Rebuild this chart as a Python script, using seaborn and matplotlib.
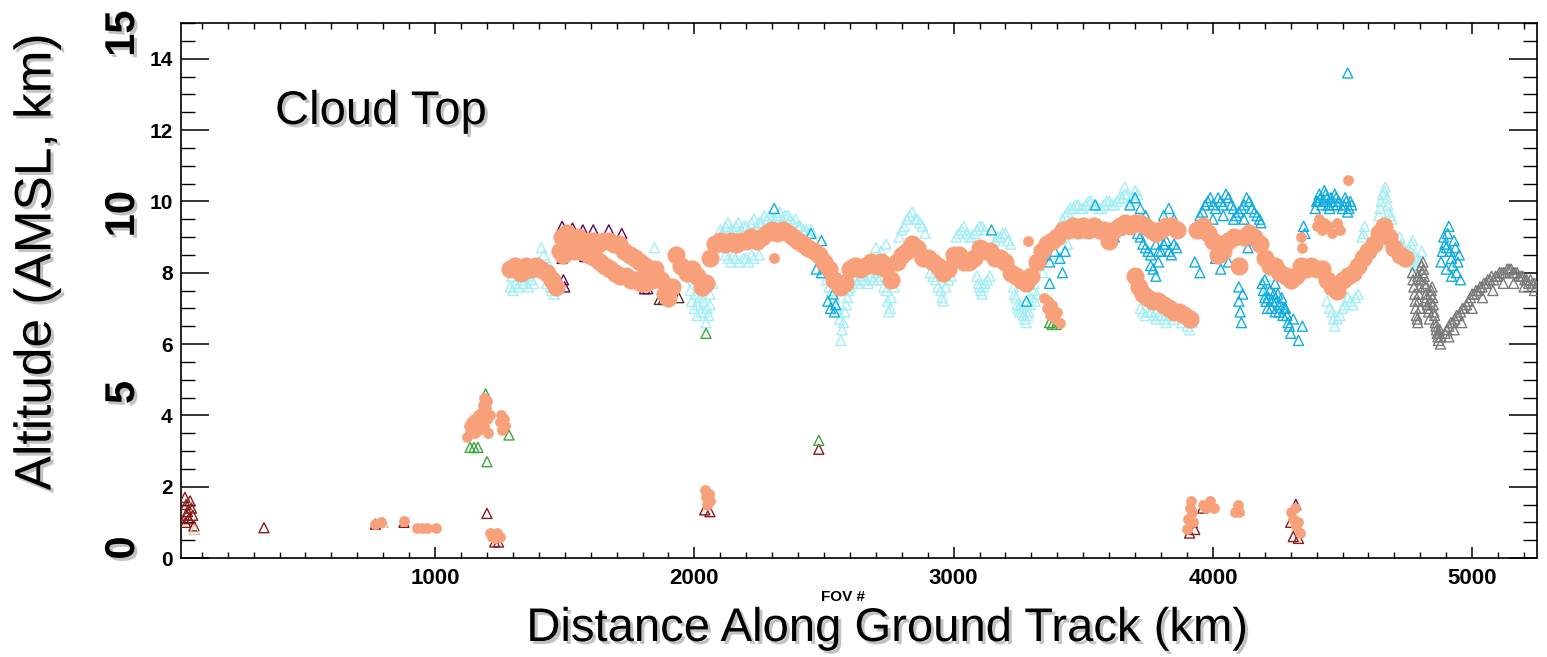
import matplotlib
matplotlib.use("Agg")
import matplotlib.pyplot as plt
import matplotlib.patheffects as pe
from matplotlib.transforms import blended_transform_factory
from matplotlib.ticker import MultipleLocator, FixedLocator
import pandas as pd
import seaborn as sns

# ---------------------------------------------------------------------------
# Cloud-top retrievals along the ground track (FOV #, altitude in km AMSL)
# ---------------------------------------------------------------------------

# main retrieved cloud-top band (filled salmon circles)
BAND_X = [1290, 1310, 1330, 1350, 1370, 1390, 1410, 1430, 1450, 1465, 1480, 1490,
          1510, 1530, 1550, 1570, 1590, 1610, 1630, 1650, 1670, 1690, 1710, 1730,
          1750, 1770, 1790, 1810, 1830, 1850, 1870, 1885, 1900, 1915, 1930, 1950,
          1970, 1990, 2010, 2030, 2045, 2060, 2080, 2100, 2120, 2140, 2160, 2180,
          2200, 2220, 2240, 2260, 2280, 2300, 2320, 2340, 2360, 2380, 2400, 2420,
          2440, 2460, 2480, 2500, 2520, 2540, 2560, 2580, 2600, 2620, 2640, 2660,
          2680, 2700, 2720, 2740, 2760, 2780, 2800, 2820, 2840, 2860, 2880, 2900,
          2920, 2940, 2960, 2980, 3000, 3020, 3040, 3060, 3080, 3100, 3120, 3140,
          3160, 3180, 3200, 3220, 3240, 3260, 3280, 3300, 3320, 3340, 3360, 3380,
          3400, 3420, 3440, 3460, 3480, 3500, 3520, 3540, 3560, 3580, 3600, 3620,
          3640, 3660, 3680, 3700, 3720, 3740, 3760, 3780, 3800, 3820, 3840, 3860,
          3940, 3960, 3980, 4000, 4020, 4040, 4060, 4080, 4100, 4120, 4140, 4160,
          4180, 4200, 4220, 4240, 4260, 4280, 4300, 4320, 4340, 4360, 4380, 4400,
          4420, 4440, 4460, 4480, 4500, 4520, 4540, 4560, 4580, 4600, 4620, 4640,
          4660, 4680, 4700, 4720, 4740]
BAND_Y = [8.1, 8.2, 8.0, 8.2, 8.1, 8.2, 8.1, 8.0, 7.8, 7.6, 8.6, 9.0,
          9.1, 8.9, 9.0, 8.8, 8.9, 8.9, 8.8, 8.9, 8.9, 8.8, 8.8, 8.6,
          8.5, 8.4, 8.3, 8.2, 8.1, 8.1, 7.8, 7.4, 7.3, 7.6, 8.5, 8.2,
          8.0, 8.1, 7.9, 7.6, 7.7, 8.4, 8.8, 8.9, 8.8, 8.9, 8.8, 8.9,
          8.9, 9.0, 8.9, 9.0, 9.1, 9.2, 9.1, 9.2, 9.1, 9.0, 8.9, 8.8,
          8.7, 8.6, 8.5, 8.3, 8.1, 7.8, 7.6, 7.7, 8.1, 8.2, 8.1, 8.2,
          8.3, 8.2, 8.3, 8.1, 7.8, 8.3, 8.5, 8.6, 8.8, 8.7, 8.4, 8.4,
          8.3, 8.2, 8.0, 8.1, 8.5, 8.5, 8.3, 8.3, 8.4, 8.7, 8.6, 8.6,
          8.4, 8.4, 8.3, 8.0, 7.9, 7.8, 7.7, 7.9, 8.3, 8.6, 8.8, 8.9,
          9.0, 9.2, 9.2, 9.3, 9.2, 9.3, 9.2, 9.3, 9.2, 9.2, 8.9, 9.2,
          9.3, 9.4, 9.3, 9.4, 9.4, 9.3, 9.2, 9.1, 9.2, 9.3, 9.3, 9.2,
          9.2, 9.3, 9.1, 8.9, 8.5, 8.6, 8.9, 9.0, 8.2, 9.0, 9.1, 9.0,
          8.8, 8.4, 8.2, 8.2, 8.0, 7.9, 7.8, 7.9, 8.2, 8.1, 8.2, 8.1,
          8.1, 7.8, 7.6, 7.5, 7.8, 7.9, 8.0, 8.2, 8.4, 8.6, 8.8, 9.1,
          9.3, 9.0, 8.7, 8.5, 8.4]

# lower edge of the thick layer near FOV 1500-1840 and the descending branch near 3700-3900
LAYER_X = [1495, 1515, 1535, 1555, 1575, 1595, 1615, 1635, 1655, 1675, 1695, 1715,
           1735, 1755, 1775, 1795, 1815, 1835,
           3700, 3715, 3730, 3750, 3770, 3790, 3810, 3830, 3850, 3870, 3890, 3910]
LAYER_Y = [8.5, 8.6, 8.6, 8.6, 8.6, 8.5, 8.4, 8.3, 8.2, 8.1, 8.0, 7.9,
           7.9, 7.8, 7.8, 7.7, 7.7, 7.8,
           7.9, 7.6, 7.4, 7.3, 7.2, 7.2, 7.1, 7.0, 6.9, 6.9, 6.8, 6.7]

# isolated salmon retrievals (low clouds and outliers)
SPOT_X = [770, 790, 880, 930, 950, 970, 1005,
          1125, 1130, 1135, 1140, 1145, 1150, 1155, 1160, 1165, 1170, 1175, 1180,
          1185, 1190, 1195, 1200, 1205, 1200, 1190, 1210,
          1250, 1255, 1260, 1265, 1270,
          1210, 1220, 1230, 1240, 1250,
          2040, 2045, 2050, 2055, 2060,
          2308, 3288,
          3350, 3360, 3370, 3380, 3390, 3400, 3410, 3365,
          3900, 3905, 3910, 3915, 3920, 3925,
          3960, 3975, 3990, 4005,
          4085, 4095, 4100,
          4300, 4310, 4320, 4330, 4315, 4335,
          4340, 4345, 4400, 4410, 4420, 4430, 4445, 4460, 4480, 4490,
          4520]
SPOT_Y = [0.95, 1.0, 1.05, 0.85, 0.85, 0.85, 0.85,
          3.4, 3.7, 3.5, 3.8, 3.6, 3.9, 3.5, 3.7, 4.0, 3.6, 3.8, 4.1,
          4.3, 4.5, 4.2, 3.9, 3.5, 4.4, 3.7, 4.0,
          3.8, 4.0, 3.6, 3.9, 3.7,
          0.7, 0.6, 0.55, 0.7, 0.6,
          1.9, 1.7, 1.5, 1.8, 1.6,
          8.4, 8.9,
          7.3, 7.0, 6.8, 7.1, 6.7, 6.9, 6.6, 7.2,
          0.8, 1.1, 1.4, 1.6, 1.3, 1.0,
          1.5, 1.4, 1.6, 1.4,
          1.3, 1.5, 1.3,
          1.3, 1.1, 0.9, 1.0, 1.4, 0.7,
          9.0, 8.7, 9.3, 9.5, 9.2, 9.4, 9.3, 9.1, 9.4, 9.2,
          10.6]

# pale cyan triangles
PALE_X = [1290, 1295, 1310, 1330, 1350, 1370, 1390, 1400, 1410, 1420, 1440, 1450, 1460,
          1300, 1320, 1340, 1360, 1380, 1420, 1430, 1445,
          1846, 1985, 1990, 2000, 2010, 2020, 2030, 2040, 2045, 2060, 2060, 2070,
          1995, 2005, 2015, 2025, 2035, 2050, 2055,
          2100, 2120, 2140, 2160, 2180, 2200, 2220, 2240, 2260, 2280, 2300, 2320,
          2340, 2360, 2380, 2400, 2420, 2440,
          2110, 2130, 2150, 2170, 2190, 2210, 2230, 2250, 2270, 2290, 2310, 2330,
          2350, 2370, 2390, 2410, 2430, 2450,
          2130, 2150, 2170, 2190, 2210, 2230, 2120, 2140, 2160, 2200, 2220, 2250,
          2520, 2540, 2550, 2560, 2565, 2570, 2580, 2590,
          2500, 2510, 2530, 2555, 2575, 2585, 2595,
          2600, 2620, 2640, 2660, 2680, 2700, 2720, 2740, 2745, 2750, 2760, 2770,
          2610, 2630, 2650, 2670, 2690, 2710, 2730, 2755,
          2720, 2740, 2700, 2790, 2810, 2830, 2850, 2870, 2890,
          2800, 2820, 2840, 2860, 2880,
          2910, 2930, 2950, 2960, 2970, 2990, 2920, 2940, 2955, 2980,
          3010, 3030, 3050, 3070, 3090, 3110, 3020, 3040, 3060, 3080, 3100, 3120,
          3090, 3100, 3110, 3120, 3140, 3095, 3105, 3115, 3130,
          3160, 3180, 3200, 3220, 3170, 3190, 3210,
          3230, 3240, 3250, 3260, 3270, 3280, 3290, 3300, 3310, 3320,
          3235, 3245, 3255, 3265, 3275, 3285, 3295, 3305, 3315,
          3330, 3345, 3400, 3440,
          3420, 3440, 3460, 3480, 3500, 3520, 3540, 3560, 3580, 3600, 3620, 3640,
          3660, 3680, 3700,
          3430, 3450, 3470, 3490, 3510, 3530, 3550, 3570, 3590, 3610, 3630, 3650,
          3670, 3690, 3710, 3660, 3700,
          3720, 3740, 3760, 3780, 3800, 3820, 3840, 3860, 3900, 3920,
          3730, 3750, 3770, 3790, 3810, 3830, 3850, 3880, 3910,
          4200, 4220,
          4440, 4460, 4470, 4480, 4500, 4520, 4540, 4560,
          4450, 4465, 4490, 4510, 4530, 4550,
          4575, 4585, 4640, 4650, 4660, 4670, 4680, 4690,
          4580, 4645, 4655, 4665, 4675, 4685,
          4720, 4735, 4750, 4760, 4770, 4780, 4790,
          4725, 4740, 4755, 4765, 4775, 4785, 4795, 4805]
PALE_Y = [7.6, 7.9, 7.7, 7.8, 7.9, 7.8, 8.0, 8.3, 8.7, 8.5, 8.2, 7.5, 7.4,
          7.5, 7.6, 7.7, 7.6, 7.7, 8.0, 7.7, 7.6,
          8.7, 7.5, 7.2, 7.0, 6.8, 7.3, 7.6, 6.9, 6.6, 7.1, 7.4, 7.7,
          7.8, 7.4, 7.1, 6.9, 7.2, 7.0, 6.8,
          9.2, 9.3, 9.2, 9.3, 9.2, 9.3, 9.4, 9.3, 9.4, 9.5, 9.5, 9.6,
          9.5, 9.6, 9.4, 9.3, 9.2, 9.1,
          9.1, 9.4, 9.2, 9.4, 9.3, 9.2, 9.5, 9.4, 9.6, 9.6, 9.5, 9.7,
          9.6, 9.5, 9.5, 9.3, 9.2, 9.2,
          8.4, 8.5, 8.3, 8.4, 8.3, 8.4, 8.5, 8.3, 8.4, 8.4, 8.5, 8.5,
          7.6, 7.3, 7.0, 6.7, 6.1, 6.4, 6.9, 7.3,
          8.0, 7.8, 7.5, 6.9, 6.6, 7.1, 7.5,
          7.6, 7.8, 7.9, 7.8, 7.9, 8.0, 7.9, 7.5, 7.2, 6.9, 7.3, 7.6,
          7.7, 7.7, 7.8, 7.7, 7.8, 7.8, 7.6, 7.0,
          8.6, 8.8, 8.7, 9.0, 9.3, 9.6, 9.5, 9.4, 9.1,
          9.2, 9.5, 9.7, 9.5, 9.3,
          8.0, 7.8, 7.5, 7.2, 7.6, 7.9, 7.9, 7.6, 7.3, 7.8,
          9.0, 9.2, 9.1, 9.0, 9.2, 9.3, 9.1, 9.3, 9.0, 9.1, 9.3, 9.2,
          7.9, 7.6, 7.4, 7.7, 7.9, 7.7, 7.5, 7.6, 7.8,
          8.9, 9.0, 9.1, 8.8, 9.0, 9.1, 8.9,
          7.6, 7.3, 7.0, 7.1, 6.8, 6.6, 6.9, 7.3, 7.7, 7.4,
          7.4, 7.1, 6.9, 6.9, 6.7, 6.8, 7.1, 7.5, 7.2,
          8.2, 8.0, 8.4, 8.8,
          9.5, 9.7, 9.8, 9.9, 9.8, 10.0, 9.9, 9.8, 9.9, 10.0, 9.9, 10.1,
          10.2, 10.0, 10.1,
          9.6, 9.8, 9.9, 9.8, 9.9, 10.0, 9.9, 9.8, 10.0, 9.9, 10.0, 10.1,
          10.2, 10.1, 10.2, 10.4, 10.3,
          7.0, 6.8, 6.9, 6.7, 6.8, 6.6, 6.9, 6.8, 6.5, 6.6,
          6.9, 6.9, 6.8, 6.8, 6.7, 6.8, 6.7, 6.6, 6.4,
          7.4, 7.9,
          7.2, 6.9, 6.5, 6.7, 7.0, 7.3, 7.1, 7.4,
          7.0, 6.7, 6.8, 7.1, 7.2, 7.3,
          9.0, 9.3, 9.6, 10.0, 10.3, 10.1, 9.7, 9.5,
          9.1, 9.8, 10.2, 10.4, 9.9, 9.6,
          9.0, 8.7, 8.4, 8.6, 8.9, 8.2, 8.4,
          8.8, 8.5, 8.3, 8.8, 8.5, 8.0, 8.3, 8.6]

# sky-blue triangles
SKY_X = [2308, 2450, 2490, 2470, 2490, 2515, 2525, 2535, 2545, 2540,
         3146, 3281, 3354, 3370, 3390, 3410, 3430, 3370, 3420,
         3546, 3600, 3620, 3640,
         3680, 3700, 3720, 3740, 3720, 3740, 3760, 3770, 3780, 3790, 3800, 3820,
         3840, 3860, 3780, 3760, 3810, 3830, 3850,
         3710, 3730, 3750, 3790, 3810, 3830, 3850,
         3930, 3950,
         3950, 3970, 3990, 4010, 4030, 4050, 4070, 4090, 4110, 4130, 4150, 4170, 4185,
         3960, 3980, 4000, 4020, 4040, 4060, 4080, 4100, 4120, 4140, 4160, 4180,
         3960, 4000, 4040, 4080, 4120,
         4010, 4030, 4050, 4060,
         4100, 4100, 4105, 4110, 4115, 4135, 4150,
         4190, 4200, 4210, 4220, 4230, 4240, 4250, 4260, 4270, 4280, 4290, 4300,
         4310, 4330, 4345, 4200, 4240,
         4195, 4205, 4215, 4225, 4235, 4245, 4255, 4265, 4275, 4285, 4295,
         4350, 4355,
         4400, 4410, 4420, 4430, 4440, 4450, 4460, 4470, 4480, 4500, 4510, 4520, 4530,
         4395, 4405, 4415, 4425, 4435, 4445, 4455, 4465, 4475, 4485, 4505, 4515, 4525, 4535,
         4520,
         4880, 4890, 4900, 4910, 4920, 4930, 4940, 4950, 4955, 4900, 4920,
         4885, 4895, 4905, 4915, 4925, 4935, 4945]
SKY_Y = [9.8, 9.1, 8.9, 8.1, 8.0, 7.2, 7.0, 7.4, 7.1, 6.9,
         9.2, 7.2, 8.5, 8.3, 8.6, 8.4, 8.6, 7.7, 8.0,
         9.9, 9.1, 9.0, 9.2,
         9.9, 10.1, 9.8, 9.6, 9.0, 8.7, 8.5, 8.1, 8.8, 8.3, 8.6, 8.9,
         8.5, 8.7, 7.9, 8.2, 9.6, 9.8, 9.5,
         9.1, 8.8, 8.6, 8.6, 8.8, 8.6, 8.8,
         8.3, 8.0,
         9.6, 9.9, 10.1, 9.8, 10.0, 10.2, 9.9, 9.6, 9.8, 10.1, 9.8, 9.6, 9.4,
         9.7, 10.0, 9.9, 10.1, 9.9, 10.1, 9.8, 9.7, 9.9, 10.0, 9.7, 9.5,
         9.4, 9.5, 9.6, 9.5, 9.5,
         8.4, 8.1, 8.6, 8.3,
         7.6, 7.2, 6.9, 6.6, 7.4, 8.7, 8.9,
         7.7, 7.3, 7.0, 7.5, 7.2, 6.9, 7.4, 7.1, 6.8, 7.0, 6.6, 6.3,
         6.7, 6.1, 6.5, 7.8, 7.7,
         7.5, 7.2, 7.3, 7.0, 7.4, 7.2, 6.9, 7.3, 7.0, 6.8, 6.5,
         9.3, 9.1,
         10.0, 10.2, 9.9, 10.3, 10.1, 9.8, 10.0, 10.2, 9.9, 9.8, 10.1, 9.7, 10.0,
         9.8, 10.0, 10.1, 10.0, 10.2, 9.9, 10.1, 9.9, 10.1, 10.0, 9.9, 10.0, 9.8, 9.9,
         13.6,
         8.3, 9.0, 8.7, 9.3, 8.4, 8.9, 8.0, 8.5, 7.8, 8.1, 7.9,
         8.6, 8.8, 9.1, 8.6, 8.2, 8.7, 8.3]

# grey triangles at the end of the track
GREY_X = [4770, 4775, 4780, 4785, 4790, 4795, 4800, 4805, 4810, 4815, 4820, 4825,
          4830, 4835, 4840, 4845, 4850, 4855, 4860, 4865, 4870, 4875, 4880, 4790, 4800,
          4772, 4778, 4782, 4788, 4792, 4798, 4808, 4812, 4818, 4822, 4828, 4832,
          4838, 4842, 4848, 4852, 4858, 4862, 4868, 4872, 4878,
          4895, 4910, 4925, 4940, 4955, 4970, 4985, 5000, 5015, 5030, 5045, 5060,
          5075, 5090, 5105, 5120, 5135, 5150, 5165, 5180, 5195, 5210, 5225, 5240,
          4902, 4918, 4933, 4948, 4963, 4978, 4993, 5008, 5023, 5038, 5053, 5068,
          5083, 5098, 5113, 5128, 5143, 5158, 5173, 5188, 5203, 5218, 5233, 5248,
          4910, 4930, 4960, 5000, 5040, 5080, 5120, 5160, 5200, 5240]
GREY_Y = [8.0, 7.6, 7.2, 6.8, 6.6, 7.4, 7.8, 8.2, 8.3, 7.9, 7.6, 7.3,
          7.0, 6.7, 7.4, 7.6, 7.1, 6.8, 6.5, 6.3, 6.1, 6.4, 6.2, 7.9, 7.0,
          7.8, 7.4, 7.0, 6.7, 7.2, 7.6, 8.0, 8.1, 7.7, 7.4, 7.1, 6.9,
          7.2, 7.5, 7.3, 6.9, 6.6, 6.4, 6.2, 6.3, 6.0,
          6.3, 6.5, 6.6, 6.8, 6.9, 7.0, 7.2, 7.4, 7.5, 7.6, 7.7, 7.8,
          7.9, 7.9, 8.0, 8.0, 8.1, 8.1, 8.0, 7.9, 7.9, 7.8, 7.8, 7.7,
          6.4, 6.6, 6.7, 6.8, 7.0, 7.1, 7.3, 7.4, 7.5, 7.6, 7.7, 7.8,
          7.8, 7.9, 8.0, 8.0, 8.1, 8.0, 8.0, 7.9, 7.8, 7.7, 7.7, 7.6,
          6.2, 6.4, 6.6, 7.0, 7.3, 7.5, 7.7, 7.7, 7.6, 7.5]

# dark red triangles (low cloud)
RED_X = [35, 40, 45, 50, 38, 55, 60, 65, 70, 42, 340, 770, 880, 1200, 1230, 1245,
         2040, 2060, 2480, 3910, 3920, 3930, 3960, 4100, 4310, 4330, 4300]
RED_Y = [1.7, 1.5, 1.3, 1.1, 1.0, 1.6, 1.4, 1.2, 0.9, 1.2, 0.85, 0.95, 1.0, 1.25, 0.45, 0.45,
         1.35, 1.3, 3.05, 0.7, 1.0, 0.8, 1.4, 1.35, 0.6, 0.55, 1.0]

# tan triangles
TAN_X = [72, 800]
TAN_Y = [0.8, 1.0]

# green triangles
GREEN_X = [1135, 1150, 1165, 1195, 1200, 1285, 2045, 2480, 3370, 3380, 3395]
GREEN_Y = [3.1, 3.1, 3.1, 4.6, 2.7, 3.45, 6.3, 3.3, 6.6, 6.55, 6.55]

# purple triangles
PURPLE_X = [1490, 1530, 1570, 1610, 1670, 1720, 1490, 1495, 1500, 1577, 1646, 1685,
            1723, 1762, 1808, 1820, 4320]
PURPLE_Y = [9.3, 9.25, 9.2, 9.2, 9.2, 9.1, 8.4, 7.8, 7.6, 8.45, 8.3, 8.1,
            7.9, 7.8, 7.55, 7.55, 1.5]

# brown triangles
BROWN_X = [1865, 1880, 1895, 1940]
BROWN_Y = [7.25, 7.25, 7.25, 7.3]

X_MAJOR = [1000, 2000, 3000, 4000, 5000]
BIG_LABELS = ["15", "10", "5", "0"]
BIG_LABEL_POS = [14.7, 9.64, 4.64, 0.28]

SALMON = "#f7a07a"
PALE = "#a4eef6"
SKY = "#12ade0"
GREY = "#7a7a7a"
RED = "#8b1a1a"
TAN = "#e2c8a8"
GREEN = "#3aa83a"
PURPLE = "#5c0a5c"
BROWN = "#4a3320"

sns.set_style("white")
plt.rcParams["font.family"] = ["Liberation Sans", "DejaVu Sans"]
plt.rcParams.update({"text.color": "black", "xtick.color": "black",
                     "ytick.color": "black", "axes.labelcolor": "black"})

fig = plt.figure(figsize=(15.47, 6.57), dpi=100)
ax = fig.add_axes([181 / 1547, 99 / 657, 1356 / 1547, 535 / 657])


def hollow(xs, ys, color, size=52, lw=1.0, z=2):
    df = pd.DataFrame({"fov": xs, "alt": ys})
    sns.scatterplot(data=df, x="fov", y="alt", marker="^", s=size, ax=ax,
                    legend=False, zorder=z)
    coll = ax.collections[-1]
    coll.set_facecolor("none")
    coll.set_edgecolor(color)
    coll.set_linewidth(lw)


def filled(xs, ys, color, size, z=5):
    df = pd.DataFrame({"fov": xs, "alt": ys})
    sns.scatterplot(data=df, x="fov", y="alt", marker="o", s=size, color=color,
                    linewidth=0, ax=ax, legend=False, zorder=z)


hollow(PALE_X, PALE_Y, PALE, z=2)
hollow(SKY_X, SKY_Y, SKY, z=3)
hollow(GREY_X, GREY_Y, GREY, z=3)
hollow(RED_X, RED_Y, RED, z=3)
hollow(TAN_X, TAN_Y, TAN, z=3)
hollow(PURPLE_X, PURPLE_Y, PURPLE, z=3)
hollow(BROWN_X, BROWN_Y, BROWN, z=3)
hollow(GREEN_X, GREEN_Y, GREEN, z=3)
filled(BAND_X, BAND_Y, SALMON, 170)
filled(LAYER_X, LAYER_Y, SALMON, 170)
filled(SPOT_X, SPOT_Y, SALMON, 60)

ax.set_xlim(20, 5250)
ax.set_ylim(0, 15)
ax.set_xlabel("")
ax.set_ylabel("")

ax.xaxis.set_major_locator(FixedLocator(X_MAJOR))
ax.xaxis.set_minor_locator(MultipleLocator(100))
ax.yaxis.set_major_locator(MultipleLocator(2))
ax.yaxis.set_minor_locator(MultipleLocator(0.5))

ax.tick_params(axis="x", which="major", direction="in", length=8, width=1.1,
               top=True, bottom=True, labelsize=16, pad=7, colors="black")
ax.tick_params(axis="x", which="minor", direction="in", length=4, width=1.0,
               top=True, bottom=True)
ax.tick_params(axis="y", which="major", direction="in", length=20, width=1.1,
               left=True, right=True, labelsize=15, pad=6, colors="black")
ax.tick_params(axis="y", which="minor", direction="in", length=10, width=1.0,
               left=True, right=True)
for lbl in ax.get_xticklabels() + ax.get_yticklabels():
    lbl.set_fontweight("bold")

for sp in ax.spines.values():
    sp.set_visible(True)
    sp.set_color("black")
    sp.set_linewidth(1.2)

shadow = [pe.withSimplePatchShadow(offset=(2.2, -2.2), shadow_rgbFace="#9a9a9a", alpha=0.6)]

fig.text(275 / 1547, 1 - 112 / 657, "Cloud Top", fontsize=34, ha="left", va="center",
         color="black", path_effects=shadow)
fig.text(37 / 1547, 1 - 262 / 657, "Altitude (AMSL, km)", fontsize=37, rotation=90,
         ha="center", va="center", color="black", path_effects=shadow)
fig.text(887 / 1547, 1 - 629 / 657, "Distance Along Ground Track (km)", fontsize=34,
         ha="center", va="center", color="black", path_effects=shadow)
fig.text(843 / 1547, 1 - 597 / 657, "FOV #", fontsize=11, fontweight="bold",
         ha="center", va="center", color="black")

trans = blended_transform_factory(fig.transFigure, ax.transData)
for txt, pos in zip(BIG_LABELS, BIG_LABEL_POS):
    fig.text(123 / 1547, pos, txt, transform=trans, fontsize=30, fontweight="bold",
             rotation=90, ha="center", va="center", color="black", path_effects=shadow)

fig.savefig("out.png", dpi=100)
